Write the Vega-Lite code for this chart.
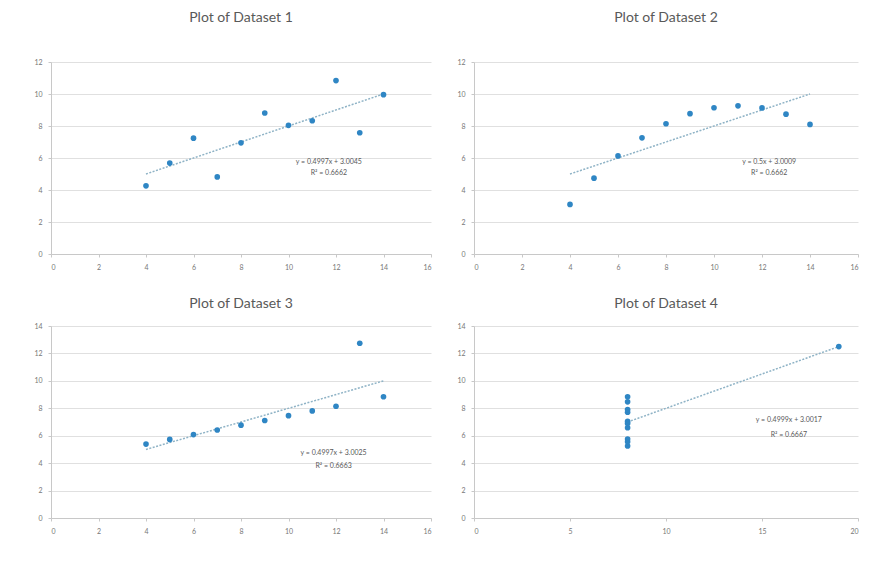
{
  "$schema": "https://vega.github.io/schema/vega-lite/v6.json",
  "background": "white",
  "padding": {"left": 33, "top": 11, "right": 10, "bottom": 5},
  "spacing": 27,
  "config": {
    "font": "Lato",
    "view": {"stroke": null},
    "title": {"fontSize": 14, "fontWeight": "normal", "color": "#595959", "offset": 33, "anchor": "middle"},
    "axis": {"labelFontSize": 7, "labelColor": "#777777", "title": null, "gridColor": "#e0e0e0", "domainColor": "#c8c8c8", "tickColor": "#c8c8c8", "tickSize": 3, "labelPadding": 6, "labelOverlap": false},
    "axisX": {"grid": false},
    "axisY": {"grid": true, "tickSize": 3}
  },
  "datasets": {
    "d1": [{"x":10,"y":8.04},{"x":8,"y":6.95},{"x":13,"y":7.58},{"x":9,"y":8.81},{"x":11,"y":8.33},{"x":14,"y":9.96},{"x":6,"y":7.24},{"x":4,"y":4.26},{"x":12,"y":10.84},{"x":7,"y":4.82},{"x":5,"y":5.68}],
    "d2": [{"x":10,"y":9.14},{"x":8,"y":8.14},{"x":13,"y":8.74},{"x":9,"y":8.77},{"x":11,"y":9.26},{"x":14,"y":8.10},{"x":6,"y":6.13},{"x":4,"y":3.10},{"x":12,"y":9.13},{"x":7,"y":7.26},{"x":5,"y":4.74}],
    "d3": [{"x":10,"y":7.46},{"x":8,"y":6.77},{"x":13,"y":12.74},{"x":9,"y":7.11},{"x":11,"y":7.81},{"x":14,"y":8.84},{"x":6,"y":6.08},{"x":4,"y":5.39},{"x":12,"y":8.15},{"x":7,"y":6.42},{"x":5,"y":5.73}],
    "d4": [{"x":8,"y":6.58},{"x":8,"y":5.76},{"x":8,"y":7.71},{"x":8,"y":8.84},{"x":8,"y":8.47},{"x":8,"y":7.04},{"x":8,"y":5.25},{"x":19,"y":12.50},{"x":8,"y":5.56},{"x":8,"y":7.91},{"x":8,"y":6.89}],
    "a1": [{"x":11.7,"y":5.75,"t":"y = 0.4997x + 3.0045"},{"x":11.7,"y":5.06,"t":"R² = 0.6662"}],
    "a2": [{"x":12.3,"y":5.75,"t":"y = 0.5x + 3.0009"},{"x":12.3,"y":5.06,"t":"R² = 0.6662"}],
    "a3": [{"x":11.9,"y":4.77,"t":"y = 0.4997x + 3.0025"},{"x":11.9,"y":3.81,"t":"R² = 0.6663"}],
    "a4": [{"x":16.4,"y":7.11,"t":"y = 0.4999x + 3.0017"},{"x":16.4,"y":6.08,"t":"R² = 0.6667"}]
  },
  "vconcat": [
    {"spacing": 24, "hconcat": [
      {"width": 380, "height": 192, "title": "Plot of Dataset 1", "data": {"name": "d1"},
       "encoding": {"x": {"field": "x", "type": "quantitative", "scale": {"domain": [0, 16], "nice": false}, "axis": {"values": [0,2,4,6,8,10,12,14,16]}}, "y": {"field": "y", "type": "quantitative", "scale": {"domain": [0, 12], "nice": false}, "axis": {"values": [0,2,4,6,8,10,12]}}},
       "layer": [
         {"transform": [{"regression": "y", "on": "x"}], "mark": {"type": "line", "color": "#8fb3c6", "strokeDash": [2, 1.5], "strokeWidth": 1.5}},
         {"mark": {"type": "circle", "color": "#2f86c4", "opacity": 1, "size": 32}},
         {"data": {"name": "a1"}, "mark": {"type": "text", "fontSize": 7, "color": "#595959"}, "encoding": {"text": {"field": "t"}}}
       ]},
      {"width": 384, "height": 192, "title": "Plot of Dataset 2", "data": {"name": "d2"},
       "encoding": {"x": {"field": "x", "type": "quantitative", "scale": {"domain": [0, 16], "nice": false}, "axis": {"values": [0,2,4,6,8,10,12,14,16]}}, "y": {"field": "y", "type": "quantitative", "scale": {"domain": [0, 12], "nice": false}, "axis": {"values": [0,2,4,6,8,10,12]}}},
       "layer": [
         {"transform": [{"regression": "y", "on": "x"}], "mark": {"type": "line", "color": "#8fb3c6", "strokeDash": [2, 1.5], "strokeWidth": 1.5}},
         {"mark": {"type": "circle", "color": "#2f86c4", "opacity": 1, "size": 32}},
         {"data": {"name": "a2"}, "mark": {"type": "text", "fontSize": 7, "color": "#595959"}, "encoding": {"text": {"field": "t"}}}
       ]}
    ]},
    {"spacing": 24, "hconcat": [
      {"width": 380, "height": 192, "title": {"text": "Plot of Dataset 3", "offset": 11}, "data": {"name": "d3"},
       "encoding": {"x": {"field": "x", "type": "quantitative", "scale": {"domain": [0, 16], "nice": false}, "axis": {"values": [0,2,4,6,8,10,12,14,16]}}, "y": {"field": "y", "type": "quantitative", "scale": {"domain": [0, 14], "nice": false}, "axis": {"values": [0,2,4,6,8,10,12,14]}}},
       "layer": [
         {"transform": [{"regression": "y", "on": "x"}], "mark": {"type": "line", "color": "#8fb3c6", "strokeDash": [2, 1.5], "strokeWidth": 1.5}},
         {"mark": {"type": "circle", "color": "#2f86c4", "opacity": 1, "size": 32}},
         {"data": {"name": "a3"}, "mark": {"type": "text", "fontSize": 7, "color": "#595959"}, "encoding": {"text": {"field": "t"}}}
       ]},
      {"width": 384, "height": 192, "title": {"text": "Plot of Dataset 4", "offset": 11}, "data": {"name": "d4"},
       "encoding": {"x": {"field": "x", "type": "quantitative", "scale": {"domain": [0, 20], "nice": false}, "axis": {"values": [0,5,10,15,20]}}, "y": {"field": "y", "type": "quantitative", "scale": {"domain": [0, 14], "nice": false}, "axis": {"values": [0,2,4,6,8,10,12,14]}}},
       "layer": [
         {"transform": [{"regression": "y", "on": "x"}], "mark": {"type": "line", "color": "#8fb3c6", "strokeDash": [2, 1.5], "strokeWidth": 1.5}},
         {"mark": {"type": "circle", "color": "#2f86c4", "opacity": 1, "size": 32}},
         {"data": {"name": "a4"}, "mark": {"type": "text", "fontSize": 7, "color": "#595959"}, "encoding": {"text": {"field": "t"}}}
       ]}
    ]}
  ]
}
